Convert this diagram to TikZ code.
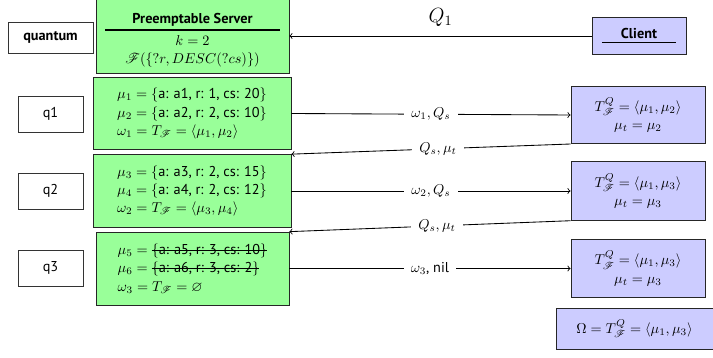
\documentclass[tikz,border=0pt]{standalone}
\usepackage{amsmath,amssymb}
\IfFileExists{mathrsfs.sty}{\usepackage{mathrsfs}}{\let\mathscr\mathcal}
\usepackage[no-math]{fontspec}
\setmainfont{PT Sans}

\definecolor{srvgreen}{RGB}{153,255,153}
\definecolor{clblue}{RGB}{204,204,255}

% struck-out text
\newcommand{\strk}[1]{\setbox0\hbox{#1}\rlap{\rule[0.6ex]{\wd0}{0.5pt}}\box0}
% bold title over a rule
\newcommand{\titlebar}[3][0pt]{\vbox{\kern#1\hbox to #2{\hfil\textbf{#3}\hfil}\kern 2.4pt\hrule height 0.8pt}}

\tikzset{every picture/.style={line width=0.6pt}}
\tikzset{
  plainbox/.style={draw=black!80, fill=white, inner sep=0.75pt, font=\fontsize{10}{13}\selectfont},
  greenbox/.style={draw=black!85, fill=srvgreen, inner sep=0.75pt, align=left, minimum height=51pt, font=\fontsize{10}{12.8}\selectfont},
  bluebox/.style={draw=black!85, fill=clblue, inner sep=0.75pt, align=center, font=\fontsize{10}{13}\selectfont},
  msg/.style={fill=white, inner xsep=5pt, inner ysep=1pt, font=\fontsize{10}{13}\selectfont},
}

\begin{document}
\begin{tikzpicture}[x=0.7pt,y=0.7pt,yscale=-1,xscale=1]
	\useasboundingbox (0,0) rectangle (713,358);

	%Shape: Rectangle
	\node [plainbox, minimum width=59.5pt, minimum height=21.7pt, font=\bfseries] (quantum) at (50.5,37.5) {quantum};
	\node [plainbox, minimum width=45.5pt, minimum height=25.2pt] (q1) at (50.5,114) {q1};
	\node [plainbox, minimum width=45.5pt, minimum height=25.2pt] (q2) at (50.5,191) {q2};
	\node [plainbox, minimum width=45.5pt, minimum height=25.2pt] (q3) at (50.5,268) {q3};

	%Shape: Rectangle
	\node [greenbox, align=center, minimum width=135pt, minimum height=52pt] (server) at (192.5,36) {\titlebar[5.6pt]{122pt}{Preemptable Server}\\[-2.5pt]$k = 2$\\$\mathscr{F}(\{?r, DESC(?cs)\})$};
	\node [greenbox, minimum width=138.6pt] (g1) at (192,113.5) {$\mu_1 = \{$a: a1, r: 1, cs: 20$\}$\\$\mu_2 = \{$a: a2, r: 2, cs: 10$\}$\\$\omega_1 = T_{\mathscr{F}} = \langle \mu_1, \mu_2 \rangle$};
	\node [greenbox, minimum width=138.6pt] (g2) at (192,191) {$\mu_3 = \{$a: a3, r: 2, cs: 15$\}$\\$\mu_4 = \{$a: a4, r: 2, cs: 12$\}$\\$\omega_2 = T_{\mathscr{F}} = \langle \mu_3, \mu_4 \rangle$};
	\node [greenbox, minimum width=135pt] (g3) at (192.5,268.5) {$\mu_5 = $ \strk{$\{$a: a5, r: 3, cs: 10$\}$}\\$\mu_6 = $ \strk{$\{$a: a6, r: 3, cs: 2$\}$}\\$\omega_3 = T_{\mathscr{F}} = \varnothing$};

	%Shape: Rectangle
	\node [bluebox, minimum width=65.8pt, minimum height=25.9pt, text depth=-1pt] (client) at (639,35.5) {\titlebar{52pt}{Client}};
	\node [bluebox, minimum width=93.8pt, minimum height=40pt] (b1) at (638,115) {$T^{Q}_{\mathscr{F}} = \langle \mu_1, \mu_2 \rangle$\\$\mu_t = \mu_2$};
	\node [bluebox, minimum width=93.8pt, minimum height=41pt] (b2) at (638,191) {$T^{Q}_{\mathscr{F}} = \langle \mu_1, \mu_3 \rangle$\\$\mu_t = \mu_3$};
	\node [bluebox, minimum width=93.8pt, minimum height=41pt] (b3) at (638,268.5) {$T^{Q}_{\mathscr{F}} = \langle \mu_1, \mu_3 \rangle$\\$\mu_t = \mu_3$};
	\node [bluebox, minimum width=110pt, minimum height=28.7pt] (omega) at (634.5,328.5) {$\Omega = T^{Q}_{\mathscr{F}} = \langle \mu_1, \mu_3 \rangle$};

	%Straight Lines
	\draw [->] (client.west |- server) -- (server.east) node [midway, above=3pt, font=\Large] (qone) {$Q_1$};
	\draw [->] (g1.east) -- (b1.west) node [msg, midway] (m1) {$\omega_1, Q_s$};
	\draw [->] (b1.south west) -- (g2.north east) node [msg, pos=0.475] (r1) {$Q_s, \mu_t$};
	\draw [->] (g2.east) -- (b2.west) node [msg, midway] (m2) {$\omega_2, Q_s$};
	\draw [->] (b2.south west) -- (g3.north east) node [msg, pos=0.475] (r2) {$Q_s, \mu_t$};
	\draw [->] (g3.east) -- (b3.west) node [msg, midway] (m3) {$\omega_3$, nil};

\end{tikzpicture}
\end{document}
